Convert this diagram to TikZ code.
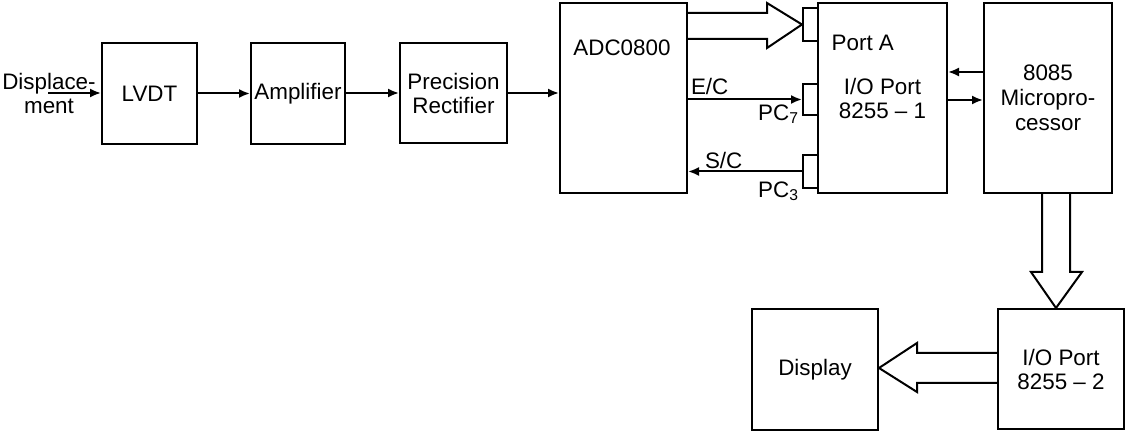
\documentclass[tikz,border=0pt]{standalone}
\usepackage{fontspec}
\setmainfont{Liberation Sans}
\usetikzlibrary{arrows.meta}
\begin{document}
\begin{tikzpicture}[x=0.5pt, y=-0.5pt, line width=1pt,
  every node/.style={font=\fontsize{11.2}{12}\selectfont},
  block/.style={draw, inner sep=0pt, align=center},
  tab/.style={draw, inner sep=0pt, minimum width=7.5pt},
  arr/.style={-{Latex[length=5.5pt,width=4.5pt]}}]
\useasboundingbox (0,0) rectangle (1126,432);
% blocks of the signal chain
\node[block, minimum width=47.5pt, minimum height=50.5pt] (lvdt) at (149.5,93.5) {LVDT};
\node[block, minimum width=47pt, minimum height=50.5pt] (amp) at (298,93.5) {Amplifier};
\node[block, minimum width=53.5pt, minimum height=50pt] (rect) at (453.5,93) {Precision\\Rectifier};
\node[block, minimum width=63.5pt, minimum height=95pt] (adc) at (623.5,98) {};
\node (adclbl) at (622,48) {ADC0800};
\node[block, minimum width=64.5pt, minimum height=95pt] (io1) at (882.5,98) {I/O Port\\8255 -- 1};
\node[anchor=west] (porta) at (824,43) {Port A};
\node[block, minimum width=64pt, minimum height=95pt] (mpu) at (1048,98) {8085\\[0.5pt]Micropro-\\[0.5pt]cessor};
\node[block, minimum width=63pt, minimum height=60pt] (io2) at (1061,369) {I/O Port\\8255 -- 2};
\node[block, minimum width=63pt, minimum height=60.5pt] (disp) at (815,369.5) {Display};
% port pins
\node[tab, minimum height=16.5pt] (tabA) at (810.5,24.5) {};
\node[tab, minimum height=15.5pt] (tabE) at (810.5,99.5) {};
\node[tab, minimum height=16.5pt] (tabS) at (810.5,171.5) {};
% input
\node[align=center] (displ) at (49,93.5) {Displace-\\ment};
\coordinate (in) at (48,93);
\draw[arr] (in) -- (lvdt.west |- in);
\draw[arr] (lvdt) -- (amp);
\draw[arr] (amp.east |- rect) -- (rect);
\draw[arr] (rect.east) -- (rect.east -| adc.west);
% control lines
\draw[arr] (adc.east |- tabE.west) -- (tabE.west);
\node[anchor=south west, inner sep=1pt] (ec) at (adc.east |- 0,98) {E/C};
\node[anchor=east, inner sep=1pt] (pc7) at (802,114) {PC\textsubscript{7}};
\draw[arr] (tabS.west) -- (adc.east |- tabS.west);
\node[anchor=south west, inner sep=1pt] (sc) at (702,172) {S/C};
\node[anchor=east, inner sep=1pt] (pc3) at (802,191) {PC\textsubscript{3}};
\draw[arr] (mpu.west |- 0,72) -- (io1.east |- 0,72);
\draw[arr] (io1.east |- 0,100) -- (mpu.west |- 0,100);
% bus arrows
\draw (adc.east |- 0,13) -- (767,13) -- (767,3) -- (tabA.west) -- (767,48) -- (767,39) -- (adc.east |- 0,39);
\draw (1042,0 |- mpu.south) -- (1042,272) -- (1031,272) -- (io2.north -| 1056,0) -- (1082,272) -- (1070,272) -- (1070,0 |- mpu.south);
\draw (io2.west |- 0,353) -- (917,353) -- (917,343) -- (disp.east |- 0,368) -- (917,392) -- (917,383) -- (io2.west |- 0,383);
\end{tikzpicture}
\end{document}
